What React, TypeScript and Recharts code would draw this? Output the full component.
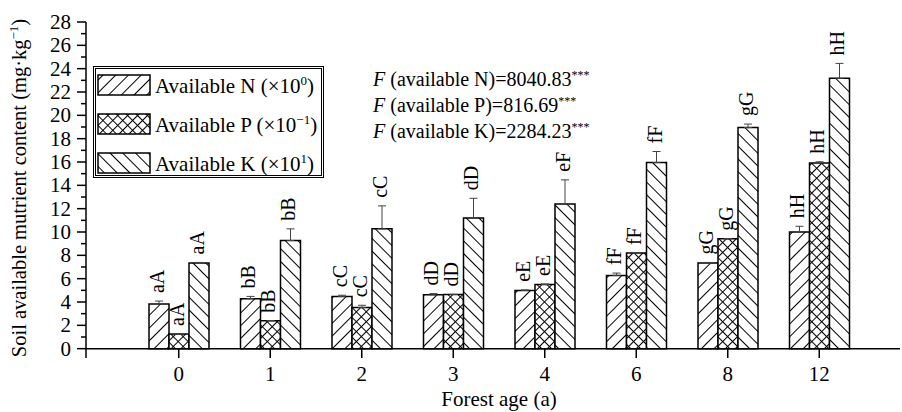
import React from 'react';
import { BarChart, Bar, XAxis, YAxis, ErrorBar, LabelList, Legend, ReferenceLine } from 'recharts';

const FONT = '"Liberation Serif", "Times New Roman", serif';

const ages = ['0', '1', '2', '3', '4', '6', '8', '12'];
const nVals = [3.83, 4.28, 4.48, 4.62, 4.99, 6.28, 7.34, 9.99];
const pVals = [1.26, 2.4, 3.52, 4.65, 5.5, 8.19, 9.42, 15.92];
const kVals = [7.34, 9.27, 10.27, 11.19, 12.41, 15.95, 18.95, 23.17];
const nErr = [0.25, 0.2, 0.1, 0.1, 0.05, 0.2, 0.05, 0.5];
const pErr = [0, 0, 0.2, 0, 0.05, 0, 0, 0.1];
const kErr = [0.05, 1.0, 1.97, 1.7, 2.06, 0.95, 0.3, 1.28];
const nLabels = ['aA', 'bB', 'cC', 'dD', 'eE', 'fF', 'gG', 'hH'];
const pLabels = ['aA', 'bB', 'cC', 'dD', 'eE', 'fF', 'gG', 'hH'];
const kLabels = ['aA', 'bB', 'cC', 'dD', 'eF', 'fF', 'gG', 'hH'];
const yTicks = [0, 1, 2, 3, 4, 5, 6, 7, 8, 9, 10, 11, 12, 13, 14, 15, 16, 17, 18, 19, 20, 21, 22, 23, 24, 25, 26, 27, 28];

const data = ages.map((age, i) => ({
  age,
  n: nVals[i],
  p: pVals[i],
  k: kVals[i],
  nE: [0, nErr[i]],
  pE: [0, pErr[i]],
  kE: [0, kErr[i]],
  nL: nLabels[i],
  pL: pLabels[i],
  kL: kLabels[i],
}));

const legendItems = [
  { fill: 'url(#hatchN)', name: 'Available N', exp: '0' },
  { fill: 'url(#hatchP)', name: 'Available P', exp: '\u22121' },
  { fill: 'url(#hatchK)', name: 'Available K', exp: '1' },
];

const fStats = [
  { name: 'available N', val: '8040.83' },
  { name: 'available P', val: '816.69' },
  { name: 'available K', val: '2284.23' },
];

const YTick = (props: any) => {
  const { x, y, payload } = props;
  const major = payload.value % 2 === 0;
  return (
    <g>
      <line x1={x - (major ? 9 : 5)} y1={y} x2={x} y2={y} stroke="#000" strokeWidth={1.5} />
      {major && (
        <text x={x - 15} y={y + 7} textAnchor="end" fontSize={21} fontFamily={FONT} fill="#000">
          {payload.value}
        </text>
      )}
    </g>
  );
};

const XTick = (props: any) => {
  const { x, y, payload } = props;
  return (
    <g>
      <line x1={x} y1={y - 9} x2={x} y2={y} stroke="#000" strokeWidth={1.5} />
      <text x={x} y={y + 23} textAnchor="middle" fontSize={21} fontFamily={FONT} fill="#000">
        {payload.value}
      </text>
    </g>
  );
};

const makeLabel = (vals: number[], errs: number[]) => (props: any) => {
  const { x, y, width, height, value, index } = props;
  const cx = Number(x) + Number(width) / 2;
  const ppu = Number(height) / vals[index];
  const ty = Number(y) - errs[index] * ppu - 8;
  const tx = cx + 5;
  return (
    <text x={tx} y={ty} transform={`rotate(-90 ${tx} ${ty})`} fontSize={20} fontFamily={FONT} fill="#000">
      {value}
    </text>
  );
};

const renderLegend = () => (
  <svg width={231} height={112} style={{ display: 'block' }}>
    <rect x={0.5} y={0.5} width={230} height={111} fill="#fff" stroke="#000" strokeWidth={1} />
    <rect x={2.5} y={2.5} width={226} height={107} fill="none" stroke="#000" strokeWidth={1} />
    {legendItems.map((it, i) => (
      <g key={it.name}>
        <rect x={5} y={9 + i * 39} width={52} height={20} fill={it.fill} stroke="#000" strokeWidth={1.5} />
        <text x={62} y={27 + i * 39} fontSize={21} fontFamily={FONT} fill="#000">
          {it.name} (×10
          <tspan dy={-8} fontSize={13}>{it.exp}</tspan>
          <tspan dy={8}>)</tspan>
        </text>
      </g>
    ))}
  </svg>
);

export default function App() {
  return (
    <div style={{ position: 'absolute', left: 0, top: 0, width: 902, height: 412, background: '#fff' }}>
      <svg width={0} height={0} style={{ position: 'absolute' }}>
        <defs>
          <pattern id="hatchN" patternUnits="userSpaceOnUse" width={9} height={9} patternTransform="rotate(45)">
            <rect width={9} height={9} fill="#fff" />
            <line x1={4.5} y1={0} x2={4.5} y2={9} stroke="#000" strokeWidth={1} />
          </pattern>
          <pattern id="hatchK" patternUnits="userSpaceOnUse" width={9} height={9} patternTransform="rotate(-45)">
            <rect width={9} height={9} fill="#fff" />
            <line x1={4.5} y1={0} x2={4.5} y2={9} stroke="#000" strokeWidth={1} />
          </pattern>
          <pattern id="hatchP" patternUnits="userSpaceOnUse" width={7} height={7} patternTransform="rotate(45)">
            <rect width={7} height={7} fill="#fff" />
            <line x1={3.5} y1={0} x2={3.5} y2={7} stroke="#000" strokeWidth={1} />
            <line x1={0} y1={3.5} x2={7} y2={3.5} stroke="#000" strokeWidth={1} />
          </pattern>
        </defs>
      </svg>
      <BarChart
        width={902}
        height={412}
        data={data}
        margin={{ top: 22, right: 2, bottom: 0, left: 0 }}
        barSize={20}
        barGap={0}
      >
        <XAxis
          dataKey="age"
          axisLine={false}
          tickLine={false}
          tickSize={0}
          tickMargin={0}
          height={54}
          interval={0}
          padding={{ left: 47, right: 35 }}
          tick={<XTick />}
          label={{
            content: () => (
              <text x={499} y={406} textAnchor="middle" fontSize={21} fontFamily={FONT} fill="#000">
                Forest age (a)
              </text>
            ),
          }}
        />
        <YAxis
          width={86}
          domain={[-0.8, 28]}
          ticks={yTicks}
          interval={0}
          axisLine={{ stroke: '#000', strokeWidth: 1.5 }}
          tickLine={false}
          tickSize={0}
          tickMargin={0}
          tick={<YTick />}
          allowDataOverflow
          label={{
            content: () => (
              <text
                x={26}
                y={188}
                transform="rotate(-90 26 188)"
                textAnchor="middle"
                fontSize={20.5}
                fontFamily={FONT}
                fill="#000"
              >
                Soil available mutrient content (mg·kg
                <tspan dy={-8} fontSize={13}>{'\u22121'}</tspan>
                <tspan dy={8}>)</tspan>
              </text>
            ),
          }}
        />
        <Legend
          content={renderLegend}
          layout="vertical"
          align="center"
          verticalAlign="middle"
          wrapperStyle={{ left: 93, top: 66, width: 231, height: 112 }}
        />
        <Bar dataKey="n" fill="url(#hatchN)" stroke="#000" strokeWidth={1.5} isAnimationActive={false}>
          <ErrorBar dataKey="nE" direction="y" width={4} stroke="#444" strokeWidth={1} />
          <LabelList dataKey="nL" content={makeLabel(nVals, nErr)} />
        </Bar>
        <Bar dataKey="p" fill="url(#hatchP)" stroke="#000" strokeWidth={1.5} isAnimationActive={false}>
          <ErrorBar dataKey="pE" direction="y" width={4} stroke="#444" strokeWidth={1} />
          <LabelList dataKey="pL" content={makeLabel(pVals, pErr)} />
        </Bar>
        <Bar dataKey="k" fill="url(#hatchK)" stroke="#000" strokeWidth={1.5} isAnimationActive={false}>
          <ErrorBar dataKey="kE" direction="y" width={4} stroke="#444" strokeWidth={1} />
          <LabelList dataKey="kL" content={makeLabel(kVals, kErr)} />
        </Bar>
        <ReferenceLine y={0} stroke="#000" strokeWidth={1.5} />
      </BarChart>
      <svg width={902} height={412} style={{ position: 'absolute', left: 0, top: 0, pointerEvents: 'none' }}>
        {fStats.map((s, i) => (
          <text key={s.name} x={373} y={86 + i * 26} fontSize={20} fontFamily={FONT} fill="#000">
            <tspan fontStyle="italic">F</tspan> ({s.name})={s.val}
            <tspan dy={-7} fontSize={12}>***</tspan>
          </text>
        ))}
      </svg>
    </div>
  );
}
